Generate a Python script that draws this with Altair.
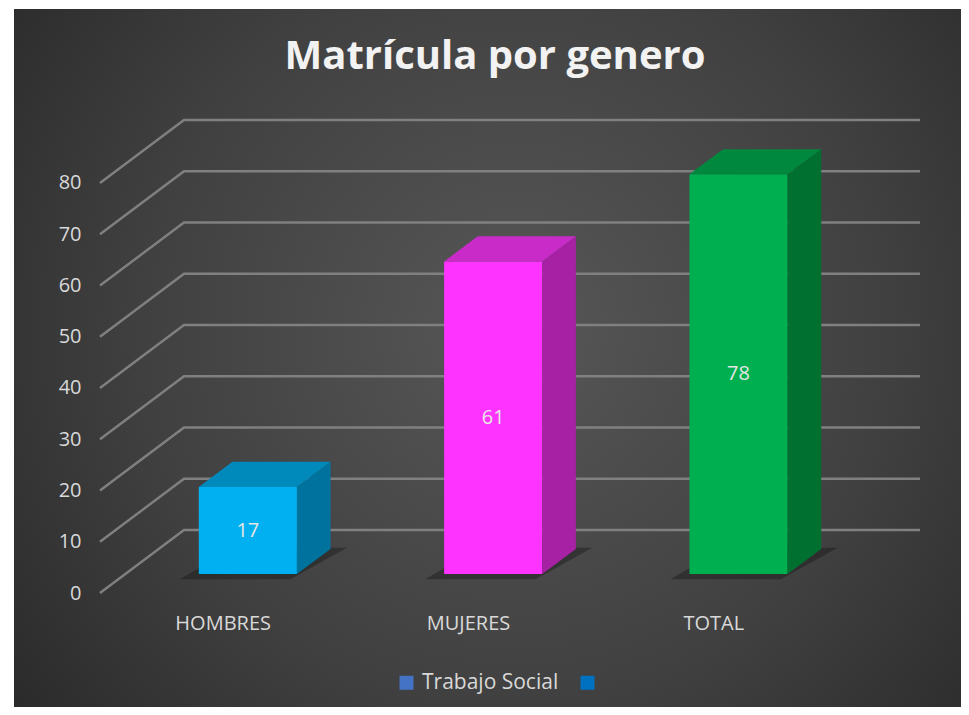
import altair as alt
import pandas as pd

# ---------------- data ----------------
categories = ["HOMBRES", "MUJERES", "TOTAL"]
values = [17, 61, 78]
front_colors = ["#00b0f0", "#ff33ff", "#00b050"]
top_colors = ["#0089bb", "#c92bc9", "#00893e"]
side_colors = ["#00729e", "#a621a3", "#007031"]
y_ticks = [0, 10, 20, 30, 40, 50, 60, 70, 80]
series_names = ["Trabajo Social", " "]
series_colors = ["#4472c4", "#0070c0"]
title_text = "Matrícula por genero"

# ---------------- 3-D projection style ----------------
DXU = 0.3424      # back wall shift, in category units
DV = 12.29        # back wall shift, in value units
Z_FRONT, Z_BACK = 0.3, 0.7
HALF = 0.2
W, H = 820, 473
FONT = "Open Sans"
TXT = "#d9d9d9"

n = len(categories)
X_MIN, X_MAX = -0.5, n - 0.5 + DXU

grid = []
for t in y_ticks:
    grid.append({"t": t, "k": 0, "x": X_MIN, "y": t})
    grid.append({"t": t, "k": 1, "x": X_MIN + DXU, "y": t + DV})
    grid.append({"t": t, "k": 2, "x": X_MAX, "y": t + DV})
grid_df = pd.DataFrame(grid)

front, side, top, shadow, labels = [], [], [], [], []
for i, (c, v) in enumerate(zip(categories, values)):
    cx = i + Z_FRONT * DXU
    front.append({"cat": c, "x": cx - HALF, "x2": cx + HALF,
                  "y": Z_FRONT * DV, "y2": v + Z_FRONT * DV, "col": front_colors[i]})
    labels.append({"cat": c, "x": cx, "y": v / 2 + Z_FRONT * DV, "v": str(v)})
    for z in (Z_FRONT, Z_BACK):
        side.append({"cat": c, "x": i + z * DXU + HALF, "y": v + z * DV,
                     "y2": z * DV, "col": side_colors[i]})
        top.append({"cat": c, "y": v + z * DV, "x": i + z * DXU - HALF,
                    "x2": i + z * DXU + HALF, "col": top_colors[i]})
    for z, dl, dr in ((0.22, 0.05, 0.0), (0.72, 0.0, 0.06)):
        shadow.append({"cat": c, "y": z * DV, "x": i + z * DXU - HALF - dl,
                       "x2": i + z * DXU + HALF + dr})
front_df = pd.DataFrame(front)
side_df = pd.DataFrame(side)
top_df = pd.DataFrame(top)
shadow_df = pd.DataFrame(shadow)
label_df = pd.DataFrame(labels)
legend_df = pd.DataFrame({"s": series_names})

label_expr = "[" + ",".join("'" + c + "'" for c in categories) + "][datum.value]"

xscale = alt.Scale(domain=[X_MIN, X_MAX], nice=False, zero=False)
yscale = alt.Scale(domain=[0, 80 + DV], nice=False, zero=False)
xaxis = alt.Axis(values=list(range(n)), labelExpr=label_expr, title=None,
                 domain=False, ticks=False, grid=False, labelFontSize=20,
                 labelFont=FONT, labelColor=TXT, labelPadding=20, zindex=1)
yaxis = alt.Axis(values=y_ticks, title=None, domain=False, ticks=False, grid=False,
                 labelFontSize=20, labelFont=FONT, labelColor=TXT,
                 labelPadding=19, zindex=1)


def X(f="x"):
    return alt.X(f + ":Q", scale=xscale, axis=xaxis)


def Y(f="y"):
    return alt.Y(f + ":Q", scale=yscale, axis=yaxis)


bg = alt.Chart(pd.DataFrame({"b": [0]})).mark_rect(
    fill=alt.Gradient(
        gradient="radial", x1=0.53, y1=0.47, r1=0.0, x2=0.53, y2=0.47, r2=0.72,
        stops=[alt.GradientStop(offset=0, color="#575757"),
               alt.GradientStop(offset=0.55, color="#404040"),
               alt.GradientStop(offset=1, color="#262626")]),
    stroke=None,
).encode(x=alt.value(-86), x2=alt.value(W + 41), y=alt.value(-111), y2=alt.value(H + 114))

grid_layer = alt.Chart(grid_df).mark_line(color="#808080", strokeWidth=2.4).encode(
    x=X(), y=Y(), detail="t:N", order="k:Q")

shadow_layer = alt.Chart(shadow_df).mark_area(
    orient="horizontal", color="#141414", opacity=0.4).encode(
    y=Y(), x=X(), x2="x2:Q", detail="cat:N")

front_layer = alt.Chart(front_df).mark_rect().encode(
    x=X(), x2="x2:Q", y=Y(), y2="y2:Q", fill=alt.Fill("col:N", scale=None))

side_layer = alt.Chart(side_df).mark_area(orient="vertical").encode(
    x=X(), y=Y(), y2="y2:Q", fill=alt.Fill("col:N", scale=None), detail="cat:N")

top_layer = alt.Chart(top_df).mark_area(orient="horizontal").encode(
    y=Y(), x=X(), x2="x2:Q", fill=alt.Fill("col:N", scale=None), detail="cat:N")

text_layer = alt.Chart(label_df).mark_text(
    font=FONT, fontSize=20, color="#e6e6e6", align="center", baseline="middle").encode(
    x=X(), y=Y(), text="v:N")

legend_layer = alt.Chart(legend_df).mark_square(opacity=0).encode(
    x=alt.value(0), y=alt.value(0),
    color=alt.Color("s:N", sort=series_names,
                    scale=alt.Scale(domain=series_names, range=series_colors),
                    legend=alt.Legend(orient="none", legendX=296, legendY=552,
                                      direction="horizontal", title=None,
                                      symbolType="square", symbolSize=196,
                                      symbolOpacity=1, symbolStrokeWidth=0,
                                      labelFont=FONT, labelFontSize=21,
                                      labelColor=TXT, labelOffset=5,
                                      columnPadding=18, zindex=1)))

chart = alt.layer(
    bg, grid_layer, shadow_layer, front_layer, side_layer, top_layer,
    text_layer, legend_layer
).properties(
    width=W, height=H,
    autosize=alt.AutoSizeParams(type="none"),
    padding={"left": 92, "top": 112, "right": 41, "bottom": 114},
    title=alt.Title(title_text, font=FONT, fontSize=40, fontWeight="bold",
                    color="#f2f2f2", anchor="middle", dx=-15, offset=-100,
                    baseline="alphabetic", zindex=1),
).configure_view(stroke=None).configure(background="white")

chart.save("out.html", embed_options={"renderer": "svg", "actions": False})
